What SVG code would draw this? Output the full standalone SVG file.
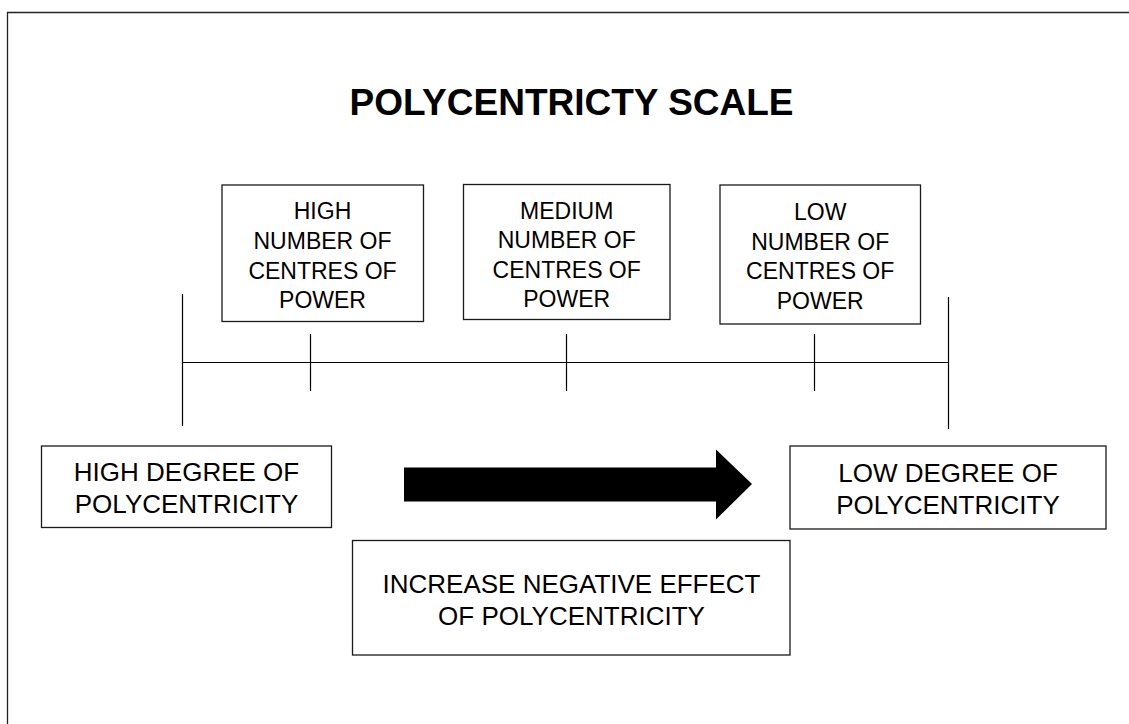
<svg xmlns="http://www.w3.org/2000/svg" width="1129" height="724" viewBox="0 0 1129 724">
  <style>
    .box { fill: #ffffff; stroke: #1a1a1a; stroke-width: 1.3; }
    .axis { stroke: #000000; stroke-width: 1.2; fill: none; }
    .t { font-family: "Liberation Sans", Arial, sans-serif; fill: #000000; text-anchor: middle; }
    .small { font-size: 23px; }
    .big { font-size: 26px; }
    .title { font-size: 37px; font-weight: bold; }
  </style>
  <rect x="0" y="0" width="1129" height="724" fill="#ffffff"/>
  <!-- page frame (continues past the right and bottom edges) -->
  <path d="M7.5,724 V12.5 H1129" fill="none" stroke="#222222" stroke-width="1.3"/>

  <text class="t title" x="571.5" y="115">POLYCENTRICTY SCALE</text>

  <!-- scale axis with end bars and ticks -->
  <g id="connectors">
    <line class="axis" x1="182.5" y1="362.5" x2="948.5" y2="362.5"/>
    <line class="axis" x1="182.5" y1="294" x2="182.5" y2="426"/>
    <line class="axis" x1="948.5" y1="297" x2="948.5" y2="429"/>
    <line class="axis" x1="310.5" y1="334" x2="310.5" y2="391"/>
    <line class="axis" x1="566.5" y1="334" x2="566.5" y2="391"/>
    <line class="axis" x1="814.5" y1="334" x2="814.5" y2="391"/>
    <!-- block arrow -->
    <polygon points="404,467.5 716,467.5 716,449.5 752,484 716,519.5 716,501.5 404,501.5" fill="#000000"/>
  </g>

  <g id="high-number">
    <rect class="box" x="222" y="185" width="201.5" height="136.5"/>
    <text class="t small" x="322.5" y="219">HIGH</text>
    <text class="t small" x="322.5" y="249">NUMBER OF</text>
    <text class="t small" x="322.5" y="278.5">CENTRES OF</text>
    <text class="t small" x="322.5" y="308">POWER</text>
  </g>

  <g id="medium-number">
    <rect class="box" x="463.5" y="184.5" width="206.5" height="135"/>
    <text class="t small" x="566.7" y="218.5">MEDIUM</text>
    <text class="t small" x="566.7" y="248">NUMBER OF</text>
    <text class="t small" x="566.7" y="277.5">CENTRES OF</text>
    <text class="t small" x="566.7" y="307">POWER</text>
  </g>

  <g id="low-number">
    <rect class="box" x="720" y="185" width="200.5" height="139"/>
    <text class="t small" x="820.2" y="219.5">LOW</text>
    <text class="t small" x="820.2" y="249.5">NUMBER OF</text>
    <text class="t small" x="820.2" y="279">CENTRES OF</text>
    <text class="t small" x="820.2" y="308.5">POWER</text>
  </g>

  <g id="high-degree">
    <rect class="box" x="41.5" y="446" width="290" height="81.5"/>
    <text class="t big" x="186.5" y="481">HIGH DEGREE OF</text>
    <text class="t big" x="186.5" y="513.3">POLYCENTRICITY</text>
  </g>

  <g id="low-degree">
    <rect class="box" x="790" y="446" width="316" height="83"/>
    <text class="t big" x="948" y="481.5">LOW DEGREE OF</text>
    <text class="t big" x="948" y="514">POLYCENTRICITY</text>
  </g>

  <g id="negative-effect">
    <rect class="box" x="352.5" y="540.5" width="437.5" height="114.5"/>
    <text class="t big" x="571.5" y="592.5">INCREASE NEGATIVE EFFECT</text>
    <text class="t big" x="571.5" y="625">OF POLYCENTRICITY</text>
  </g>
</svg>
